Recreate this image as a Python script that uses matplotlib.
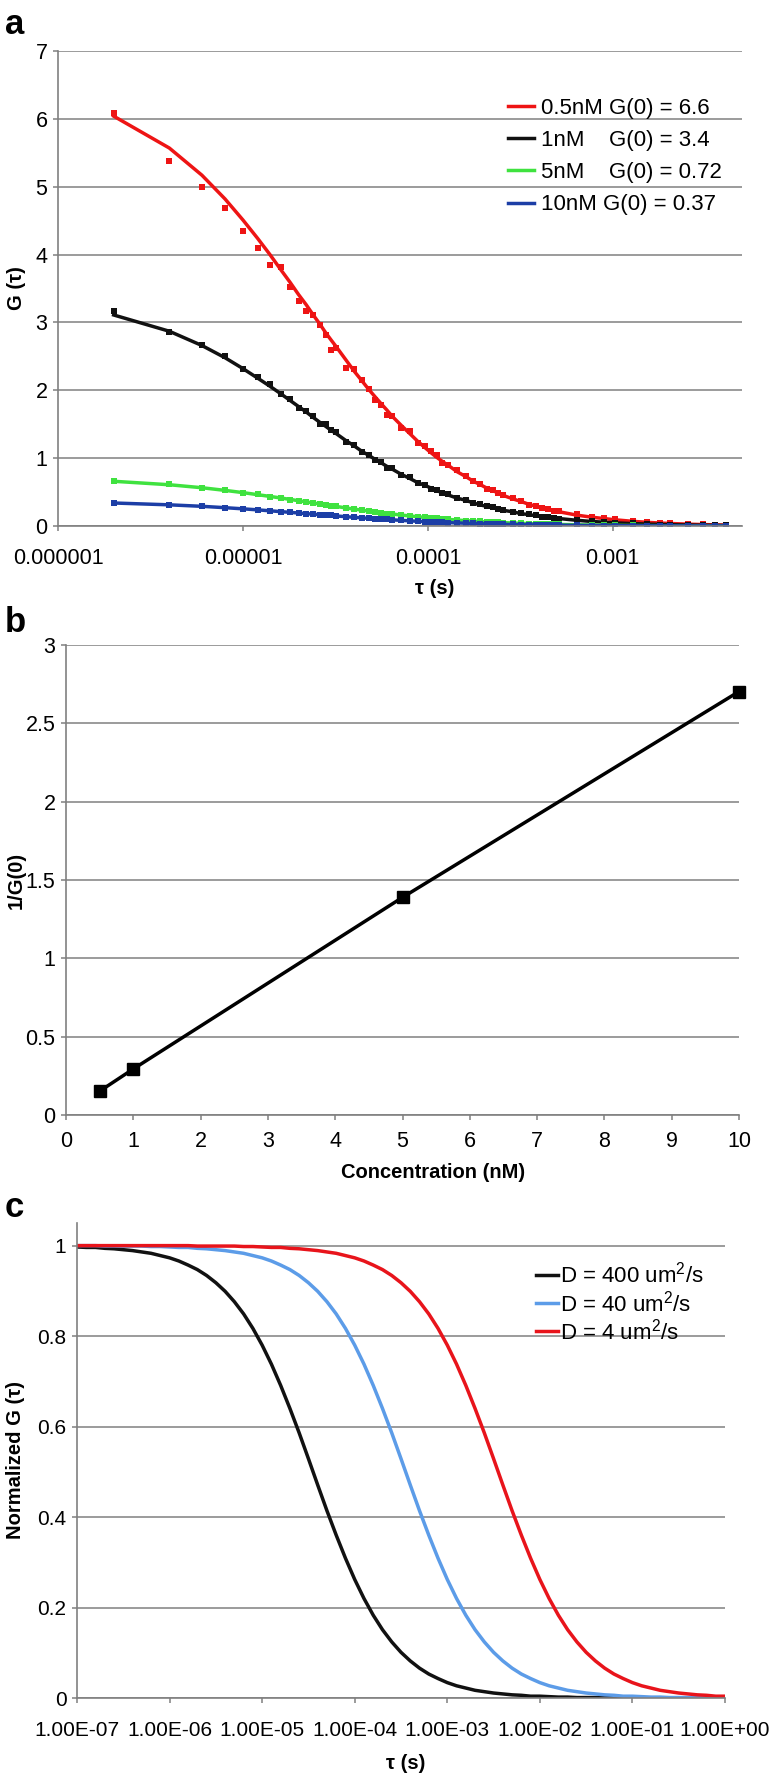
import matplotlib.pyplot as plt
import numpy as np

plt.rcParams['font.family'] = ['Liberation Sans', 'DejaVu Sans']
plt.rcParams['mathtext.default'] = 'regular'

# ---- panel a: correlation curves at four concentrations ----
tau_us = [2, 4, 6, 8, 10, 12, 14, 16, 18, 20, 22, 24, 26, 28, 30, 32,
          36, 40, 44, 48, 52, 56, 60, 64,
          72, 80, 88, 96, 104, 112, 120, 128,
          144, 160, 176, 192, 208, 224, 240, 256,
          288, 320, 352, 384, 416, 448, 480, 512,
          640, 768, 896, 1024, 1280, 1536, 1792, 2048,
          2560, 3072, 3584, 4096]

red_fit = [6.04, 5.57, 5.17, 4.82, 4.51, 4.24, 4.00, 3.78, 3.59, 3.41, 3.26, 3.11, 2.98, 2.85, 2.74, 2.64,
           2.45, 2.28, 2.14, 2.01, 1.90, 1.80, 1.71, 1.62,
           1.48, 1.36, 1.25, 1.16, 1.08, 1.01, 0.95, 0.90,
           0.80, 0.73, 0.66, 0.61, 0.56, 0.52, 0.49, 0.45,
           0.40, 0.36, 0.32, 0.29, 0.27, 0.25, 0.23, 0.21,
           0.16, 0.13, 0.11, 0.092, 0.069, 0.054, 0.044, 0.037,
           0.027, 0.021, 0.017, 0.014]
red_data = [6.09, 5.38, 5.00, 4.68, 4.35, 4.09, 3.84, 3.82, 3.52, 3.32, 3.17, 3.11, 2.96, 2.81, 2.60, 2.62,
            2.33, 2.31, 2.15, 2.02, 1.85, 1.78, 1.64, 1.62,
            1.45, 1.40, 1.22, 1.18, 1.10, 1.04, 0.93, 0.90,
            0.83, 0.74, 0.67, 0.62, 0.55, 0.53, 0.48, 0.46,
            0.41, 0.37, 0.31, 0.30, 0.26, 0.25, 0.22, 0.22,
            0.17, 0.14, 0.12, 0.10, 0.07, 0.06, 0.05, 0.04,
            0.03, 0.03, 0.02, 0.02]

black_fit = [3.11, 2.87, 2.66, 2.48, 2.32, 2.18, 2.06, 1.95, 1.85, 1.76, 1.68, 1.60, 1.53, 1.47, 1.41, 1.36,
             1.26, 1.18, 1.10, 1.04, 0.98, 0.93, 0.88, 0.84,
             0.76, 0.70, 0.64, 0.60, 0.56, 0.52, 0.49, 0.46,
             0.41, 0.38, 0.34, 0.31, 0.29, 0.27, 0.25, 0.23,
             0.21, 0.18, 0.17, 0.15, 0.14, 0.13, 0.12, 0.11,
             0.084, 0.067, 0.056, 0.047, 0.035, 0.028, 0.023, 0.019,
             0.014, 0.011, 0.009, 0.007]
black_data = [3.17, 2.86, 2.67, 2.51, 2.32, 2.20, 2.09, 1.94, 1.87, 1.74, 1.70, 1.62, 1.51, 1.50, 1.42, 1.38,
              1.24, 1.19, 1.09, 1.05, 0.97, 0.94, 0.86, 0.85,
              0.75, 0.72, 0.63, 0.61, 0.55, 0.53, 0.48, 0.47,
              0.41, 0.39, 0.34, 0.32, 0.29, 0.28, 0.25, 0.24,
              0.21, 0.19, 0.17, 0.16, 0.14, 0.13, 0.12, 0.11,
              0.09, 0.07, 0.06, 0.05, 0.04, 0.03, 0.02, 0.02,
              0.01, 0.01, 0.01, 0.01]

green_fit = [0.659, 0.608, 0.564, 0.525, 0.492, 0.462, 0.436, 0.413, 0.392, 0.372, 0.355, 0.339, 0.325, 0.311, 0.299, 0.288,
             0.267, 0.249, 0.234, 0.220, 0.207, 0.196, 0.186, 0.177,
             0.161, 0.148, 0.137, 0.127, 0.118, 0.111, 0.104, 0.098,
             0.088, 0.079, 0.072, 0.066, 0.061, 0.057, 0.053, 0.050,
             0.044, 0.039, 0.035, 0.032, 0.029, 0.027, 0.025, 0.023,
             0.018, 0.014, 0.012, 0.010, 0.007, 0.006, 0.005, 0.004,
             0.003, 0.002, 0.002, 0.002]
green_data = [0.665, 0.612, 0.560, 0.528, 0.490, 0.465, 0.433, 0.415, 0.390, 0.374, 0.352, 0.341, 0.323, 0.313, 0.297, 0.290,
              0.265, 0.251, 0.232, 0.222, 0.205, 0.198, 0.184, 0.179,
              0.160, 0.150, 0.135, 0.129, 0.117, 0.112, 0.103, 0.099,
              0.087, 0.080, 0.071, 0.067, 0.060, 0.058, 0.052, 0.051,
              0.044, 0.040, 0.035, 0.033, 0.029, 0.028, 0.025, 0.024,
              0.018, 0.015, 0.012, 0.011, 0.008, 0.006, 0.005, 0.004,
              0.003, 0.003, 0.002, 0.002]

blue_fit = [0.339, 0.312, 0.290, 0.270, 0.253, 0.238, 0.224, 0.212, 0.201, 0.191, 0.182, 0.174, 0.167, 0.160, 0.154, 0.148,
            0.137, 0.128, 0.120, 0.113, 0.107, 0.101, 0.096, 0.091,
            0.083, 0.076, 0.070, 0.065, 0.061, 0.057, 0.053, 0.050,
            0.045, 0.041, 0.037, 0.034, 0.031, 0.029, 0.027, 0.025,
            0.022, 0.020, 0.018, 0.016, 0.015, 0.014, 0.013, 0.012,
            0.009, 0.007, 0.006, 0.005, 0.004, 0.003, 0.002, 0.002,
            0.002, 0.001, 0.001, 0.001]
blue_data = [0.335, 0.310, 0.288, 0.268, 0.255, 0.236, 0.226, 0.210, 0.203, 0.190, 0.184, 0.172, 0.168, 0.158, 0.155, 0.147,
             0.138, 0.127, 0.121, 0.112, 0.108, 0.100, 0.097, 0.090,
             0.084, 0.075, 0.071, 0.064, 0.062, 0.056, 0.054, 0.049,
             0.046, 0.040, 0.038, 0.033, 0.032, 0.028, 0.028, 0.024,
             0.023, 0.019, 0.019, 0.015, 0.016, 0.013, 0.013, 0.011,
             0.010, 0.007, 0.007, 0.005, 0.004, 0.003, 0.003, 0.002,
             0.002, 0.001, 0.001, 0.001]

conc_labels = ['0.5nM G(0) = 6.6', '1nM    G(0) = 3.4', '5nM    G(0) = 0.72', '10nM G(0) = 0.37']
a_xticks = [1e-6, 1e-5, 1e-4, 1e-3]
a_xticklabels = ['0.000001', '0.00001', '0.0001', '0.001']

# ---- panel b: 1/G(0) vs concentration ----
conc_nM = [0.5, 1, 5, 10]
inv_g0 = [0.152, 0.294, 1.389, 2.703]

# ---- panel c: normalized curves for three diffusion coefficients ----
tau_c = [1.000e-7, 1.259e-7, 1.585e-7, 1.995e-7, 2.512e-7, 3.162e-7, 3.981e-7, 5.012e-7, 6.310e-7, 7.943e-7,
         1.000e-6, 1.259e-6, 1.585e-6, 1.995e-6, 2.512e-6, 3.162e-6, 3.981e-6, 5.012e-6, 6.310e-6, 7.943e-6,
         1.000e-5, 1.259e-5, 1.585e-5, 1.995e-5, 2.512e-5, 3.162e-5, 3.981e-5, 5.012e-5, 6.310e-5, 7.943e-5,
         1.000e-4, 1.259e-4, 1.585e-4, 1.995e-4, 2.512e-4, 3.162e-4, 3.981e-4, 5.012e-4, 6.310e-4, 7.943e-4,
         1.000e-3, 1.259e-3, 1.585e-3, 1.995e-3, 2.512e-3, 3.162e-3, 3.981e-3, 5.012e-3, 6.310e-3, 7.943e-3,
         1.000e-2, 1.259e-2, 1.585e-2, 1.995e-2, 2.512e-2, 3.162e-2, 3.981e-2, 5.012e-2, 6.310e-2, 7.943e-2,
         1.000e-1, 1.259e-1, 1.585e-1, 1.995e-1, 2.512e-1, 3.162e-1, 3.981e-1, 5.012e-1, 6.310e-1, 7.943e-1,
         1.0]
g_d400 = [0.997, 0.996, 0.996, 0.994, 0.993, 0.991, 0.989, 0.986, 0.983, 0.978,
          0.973, 0.966, 0.957, 0.947, 0.934, 0.918, 0.899, 0.876, 0.849, 0.817,
          0.780, 0.738, 0.691, 0.640, 0.586, 0.529, 0.471, 0.414, 0.360, 0.309,
          0.262, 0.220, 0.183, 0.151, 0.124, 0.101, 0.082, 0.066, 0.053, 0.043,
          0.034, 0.027, 0.022, 0.017, 0.014, 0.011, 0.009, 0.007, 0.006, 0.004,
          0.004, 0.003, 0.002, 0.002, 0.001, 0.001, 0.001, 0.001, 0.001, 0.000,
          0.000, 0.000, 0.000, 0.000, 0.000, 0.000, 0.000, 0.000, 0.000, 0.000,
          0.000]
g_d40 = [1.000, 1.000, 1.000, 0.999, 0.999, 0.999, 0.999, 0.999, 0.998, 0.998,
         0.997, 0.996, 0.996, 0.994, 0.993, 0.991, 0.989, 0.986, 0.983, 0.978,
         0.973, 0.966, 0.957, 0.947, 0.934, 0.918, 0.899, 0.876, 0.849, 0.817,
         0.780, 0.738, 0.691, 0.640, 0.586, 0.529, 0.471, 0.414, 0.360, 0.309,
         0.262, 0.220, 0.183, 0.151, 0.124, 0.101, 0.082, 0.066, 0.053, 0.043,
         0.034, 0.027, 0.022, 0.017, 0.014, 0.011, 0.009, 0.007, 0.006, 0.004,
         0.004, 0.003, 0.002, 0.002, 0.001, 0.001, 0.001, 0.001, 0.001, 0.000,
         0.000]
g_d4 = [1.000, 1.000, 1.000, 1.000, 1.000, 1.000, 1.000, 1.000, 1.000, 1.000,
        1.000, 1.000, 1.000, 0.999, 0.999, 0.999, 0.999, 0.999, 0.998, 0.998,
        0.997, 0.996, 0.996, 0.994, 0.993, 0.991, 0.989, 0.986, 0.983, 0.978,
        0.973, 0.966, 0.957, 0.947, 0.934, 0.918, 0.899, 0.876, 0.849, 0.817,
        0.780, 0.738, 0.691, 0.640, 0.586, 0.529, 0.471, 0.414, 0.360, 0.309,
        0.262, 0.220, 0.183, 0.151, 0.124, 0.101, 0.082, 0.066, 0.053, 0.043,
        0.034, 0.027, 0.022, 0.017, 0.014, 0.011, 0.009, 0.007, 0.006, 0.004,
        0.004]
d_labels = ['D = 400 um$^{2}$/s', 'D = 40 um$^{2}$/s', 'D = 4 um$^{2}$/s']
c_xticks = [1e-7, 1e-6, 1e-5, 1e-4, 1e-3, 1e-2, 1e-1, 1e0]
c_xticklabels = ['1.00E-07', '1.00E-06', '1.00E-05', '1.00E-04',
                 '1.00E-03', '1.00E-02', '1.00E-01', '1.00E+00']


GRID = '#808080'
W, H = 776, 1776


def box(l, t, r, b):
    return [l / W, 1 - b / H, (r - l) / W, (b - t) / H]


def style(ax, xpad, size=15.5):
    for s in ['top', 'right']:
        ax.spines[s].set_visible(False)
    for s in ['left', 'bottom']:
        ax.spines[s].set_color(GRID)
        ax.spines[s].set_linewidth(1.2)
    ax.grid(axis='y', color=GRID, lw=1.1)
    ax.set_axisbelow(True)
    ax.tick_params(direction='out', length=3.6, width=1.1, color=GRID, labelsize=size)
    ax.tick_params(axis='x', pad=xpad)
    ax.tick_params(axis='y', pad=4)
    ax.minorticks_off()


fig = plt.figure(figsize=(7.76, 17.76), dpi=100)

# panel a
ax = fig.add_axes(box(58, 51, 742, 526))
tau = np.array(tau_us) * 1e-6
colors_a = ['#ee1414', '#111111', '#3fe23f', '#1c3ea6']
fits = [red_fit, black_fit, green_fit, blue_fit]
datas = [red_data, black_data, green_data, blue_data]
for col, fit, dat, lab in zip(colors_a, fits, datas, conc_labels):
    ax.plot(tau, dat, 's', color=col, ms=4.4, mew=0)
    ax.plot(tau, fit, '-', color=col, lw=2.5, label=lab)
ax.set_xscale('log')
ax.set_xlim(1e-6, 5e-3)
ax.set_ylim(0, 7)
ax.set_yticks(range(8))
ax.set_xticks(a_xticks)
ax.set_xticklabels(a_xticklabels)
style(ax, 12)
ax.legend(loc='upper left', bbox_to_anchor=(508 / W, 1 - 98 / H), bbox_transform=fig.transFigure,
          frameon=False, fontsize=16, handlelength=1.15, handletextpad=0.35,
          labelspacing=0.5, borderpad=0, borderaxespad=0)

# panel b
ax = fig.add_axes(box(66, 645, 739, 1115))
ax.plot(conc_nM, inv_g0, '-s', color='black', lw=2.5, ms=8.5, clip_on=False)
ax.set_xlim(0, 10)
ax.set_ylim(0, 3)
ax.set_xticks(range(11))
ax.set_yticks([0, 0.5, 1, 1.5, 2, 2.5, 3])
ax.set_yticklabels(['0', '0.5', '1', '1.5', '2', '2.5', '3'])
style(ax, 8)

# panel c
ax = fig.add_axes(box(77, 1223, 725, 1698))
for g, col, lab in zip([g_d400, g_d40, g_d4], ['#111111', '#5c9ce8', '#e8141b'], d_labels):
    ax.plot(tau_c, g, '-', color=col, lw=2.5, label=lab)
ax.set_xscale('log')
ax.set_xlim(1e-7, 1)
ax.set_ylim(0, 1.05)
ax.set_xticks(c_xticks)
ax.set_xticklabels(c_xticklabels)
ax.set_yticks([0, 0.2, 0.4, 0.6, 0.8, 1])
ax.set_yticklabels(['0', '0.2', '0.4', '0.6', '0.8', '1'])
style(ax, 13, size=15)
ax.legend(loc='upper left', bbox_to_anchor=(536 / W, 1 - 1262 / H), bbox_transform=fig.transFigure,
          frameon=False, fontsize=16, handlelength=1.0, handletextpad=0.1,
          labelspacing=0.1, borderpad=0, borderaxespad=0)

# labels
for txt, y in [('a', 25), ('b', 623), ('c', 1207)]:
    fig.text(5 / W, 1 - y / H, txt, fontsize=25, fontweight='bold', ha='left', va='center')
ylabels = [('G (τ)', 288), ('1/G(0)', 880), ('Normalized G (τ)', 1460)]
for txt, y in ylabels:
    fig.text(16 / W, 1 - y / H, txt, rotation=90, fontsize=14.5, fontweight='bold',
             ha='center', va='center')
xlabels = [('τ (s)', 435, 588), ('Concentration (nM)', 433, 1172), ('τ (s)', 406, 1763)]
for txt, x, y in xlabels:
    fig.text(x / W, 1 - y / H, txt, fontsize=14.5, fontweight='bold', ha='center', va='center')

fig.savefig('out.png', dpi=100)
